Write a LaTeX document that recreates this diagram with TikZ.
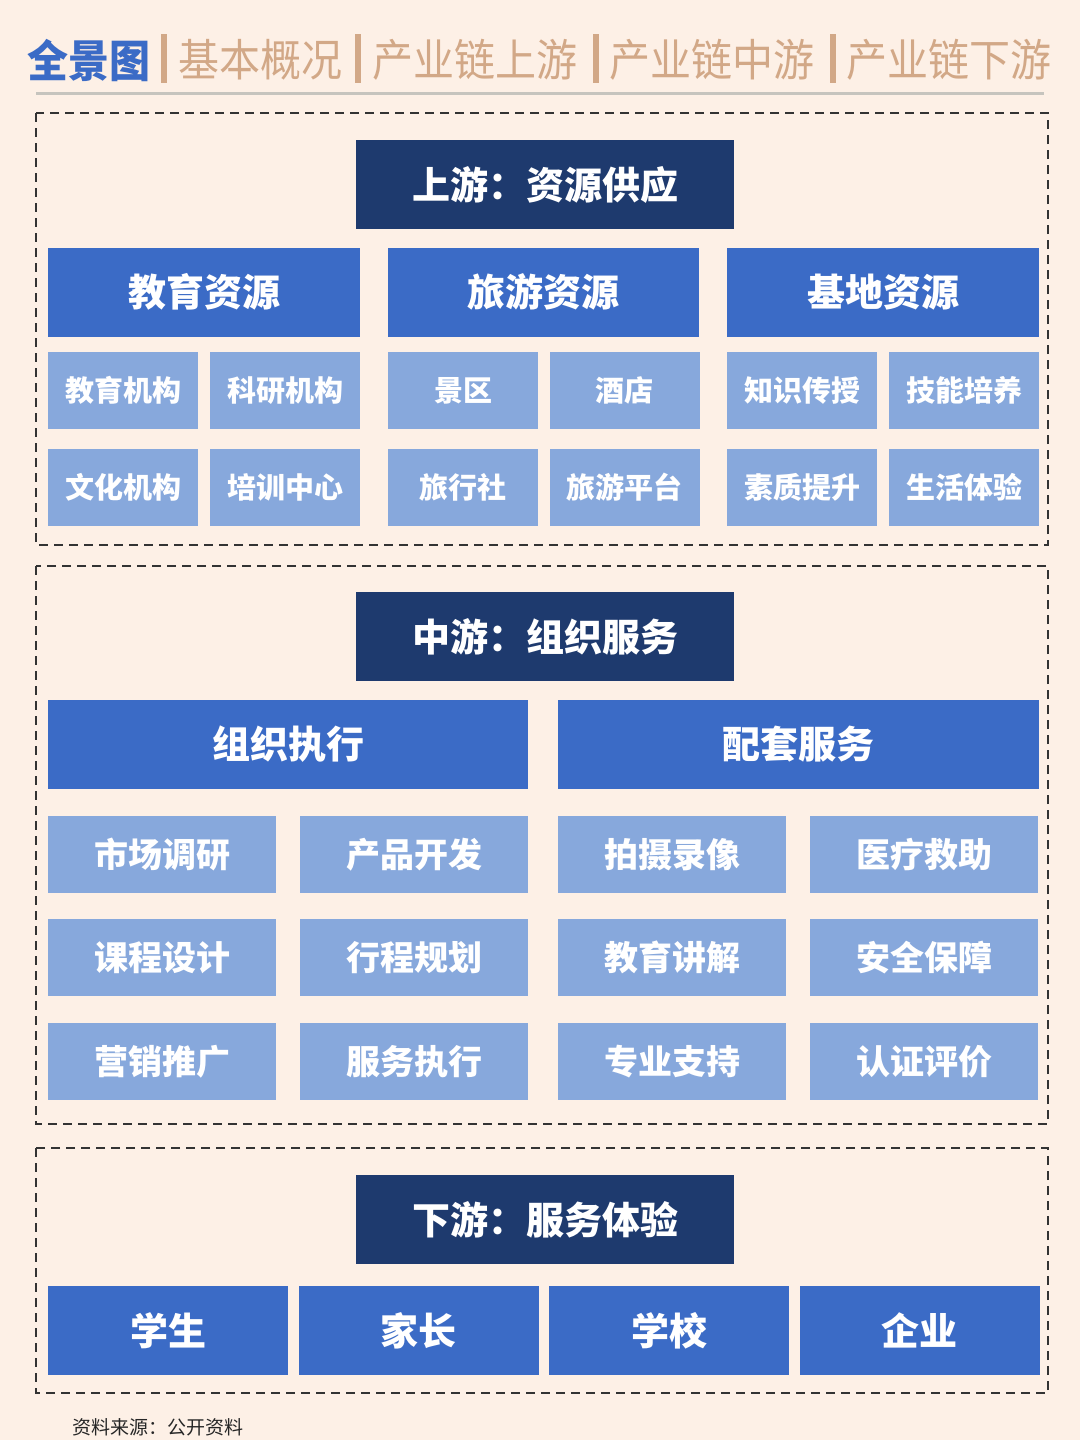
\documentclass[tikz,border=0pt]{standalone}
\usepackage{fontspec}
\setmainfont{Noto Sans CJK SC}
\usetikzlibrary{positioning}

\definecolor{bgcream}{HTML}{FDF0E6}
\definecolor{navy}{HTML}{1E3A6E}
\definecolor{midblue}{HTML}{3B6BC6}
\definecolor{lightblue}{HTML}{87A8DC}
\definecolor{tanbar}{HTML}{D2A887}
\definecolor{rulegray}{HTML}{C6C4BE}
\definecolor{dashgray}{HTML}{333333}

\tikzset{
  titlebox/.style={fill=navy, text=white, inner sep=0pt, minimum width=378pt, minimum height=89pt,
    font=\fontsize{38}{38}\selectfont\bfseries},
  catbox/.style={fill=midblue, text=white, inner sep=0pt, minimum height=89pt,
    font=\fontsize{38}{38}\selectfont\bfseries},
  subbox/.style={fill=lightblue, text=white, inner sep=0pt, minimum height=77pt,
    font=\fontsize{29}{29}\selectfont\bfseries},
  section/.style={draw=dashgray, line width=2.2pt, dash pattern=on 9pt off 6pt},
  tabtext/.style={anchor=west, inner sep=0pt, text=tanbar, font=\fontsize{41}{41}\selectfont},
}

\begin{document}
\begin{tikzpicture}[x=1pt, y=-1pt]
    % page
    \fill[bgcream] (0,0) rectangle (1080,1440);
    \useasboundingbox (0,0) rectangle (1080,1440);

    % Header tabs
    \node[tabtext, text=midblue, font=\fontsize{41}{41}\selectfont\bfseries] (tabAll) at (27,60) {\scalebox{1}[1.08]{全景图}};
    \node[tabtext] (tabBasic) at (178,60) {\scalebox{1}[1.08]{基本概况}};
    \node[tabtext] (tabUp) at (372,60) {\scalebox{1}[1.08]{产业链上游}};
    \node[tabtext] (tabMid) at (609,60) {\scalebox{1}[1.08]{产业链中游}};
    \node[tabtext] (tabDown) at (846,60) {\scalebox{1}[1.08]{产业链下游}};
    \foreach \x in {164,358,596,833}
        \fill[tanbar] (\x-2.8,34) rectangle (\x+2.8,83);
    \draw[rulegray, line width=3pt] (36,93) -- (1044,93);

    % Upstream
    \draw[section] (36,113) rectangle (1048,545);
    \node[titlebox] (upTitle) at (545,184.5) {上游：资源供应};
    \node[catbox, minimum width=312pt] (eduRes) at (204,292) {教育资源};
    \node[catbox, minimum width=311pt] (tourRes) at (543.5,292) {旅游资源};
    \node[catbox, minimum width=312pt] (baseRes) at (883,292) {基地资源};
    \foreach \name/\cx/\cy/\txt in {
        eduA/123/390.5/教育机构, eduB/285/390.5/科研机构,
        eduC/123/487.5/文化机构, eduD/285/487.5/培训中心,
        tourA/463/390.5/景区, tourB/624.5/390.5/酒店,
        tourC/463/487.5/旅行社, tourD/624.5/487.5/旅游平台,
        baseA/802/390.5/知识传授, baseB/964/390.5/技能培养,
        baseC/802/487.5/素质提升, baseD/964/487.5/生活体验}
        \node[subbox, minimum width=150pt] (\name) at (\cx,\cy) {\txt};

    % Midstream
    \draw[section] (36,566) rectangle (1048,1124);
    \node[titlebox] (midTitle) at (545,636.5) {中游：组织服务};
    \node[catbox, minimum width=480pt] (orgExec) at (288,744.5) {组织执行};
    \node[catbox, minimum width=481pt] (support) at (798.5,744.5) {配套服务};
    \foreach \name/\cx/\cy/\txt in {
        orgA/162/854.5/市场调研, orgB/414/854.5/产品开发,
        orgC/162/957.5/课程设计, orgD/414/957.5/行程规划,
        orgE/162/1061.5/营销推广, orgF/414/1061.5/服务执行,
        supA/672/854.5/拍摄录像, supB/924/854.5/医疗救助,
        supC/672/957.5/教育讲解, supD/924/957.5/安全保障,
        supE/672/1061.5/专业支持, supF/924/1061.5/认证评价}
        \node[subbox, minimum width=228pt, font=\fontsize{34}{34}\selectfont\bfseries] (\name) at (\cx,\cy) {\txt};

    % Downstream
    \draw[section] (36,1148) rectangle (1048,1393);
    \node[titlebox] (downTitle) at (545,1219.5) {下游：服务体验};
    \foreach \name/\cx/\txt in {student/168/学生, parent/418.5/家长, school/669/学校, firm/919.5/企业}
        \node[catbox, minimum width=240pt] (\name) at (\cx,1330.5) {\txt};

    % Source
    \node[anchor=west, inner sep=0pt, text=black!85, font=\fontsize{19}{19}\selectfont] (source) at (72,1427) {资料来源：公开资料};
\end{tikzpicture}
\end{document}
